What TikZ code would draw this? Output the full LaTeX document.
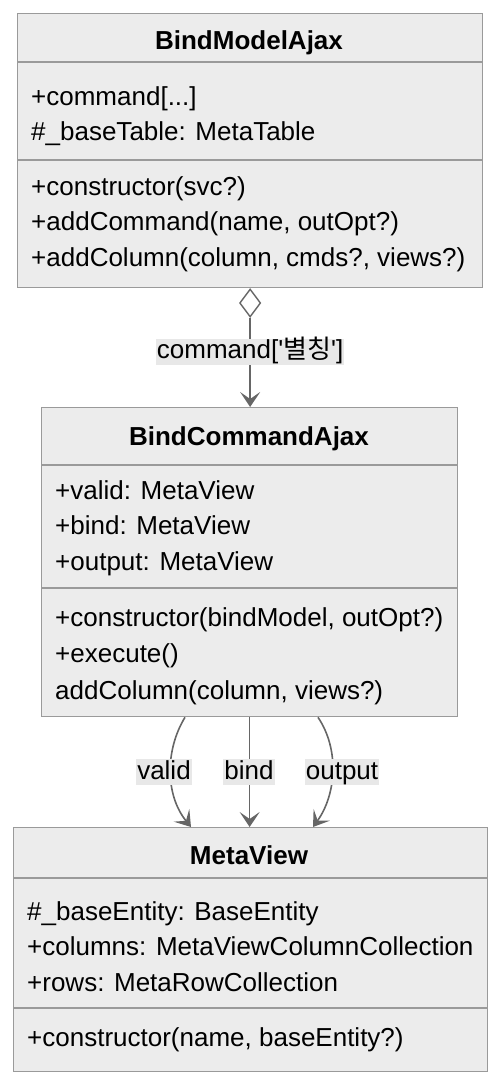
\documentclass[tikz,border=0pt]{standalone}
\usepackage{fontspec}
\setmainfont{Liberation Sans}
\newfontfamily\krfont{Noto Sans CJK KR}
\usetikzlibrary{arrows.meta,shapes.geometric,calc}
\definecolor{boxfill}{HTML}{ECECEC}
\definecolor{boxline}{HTML}{9A9A9A}
\definecolor{edgecol}{HTML}{666666}
\definecolor{lblfill}{HTML}{E8E8E8}
\tikzset{
  classbox/.style={draw=boxline, fill=boxfill, line width=1.3pt, inner sep=0pt, minimum width=#1},
  member/.style={anchor=base west, inner sep=0pt, font=\fontsize{26}{30}\selectfont},
  title/.style={anchor=base, inner sep=0pt, font=\fontsize{26}{30}\selectfont\bfseries},
  divider/.style={draw=boxline, line width=1.3pt},
  edge/.style={draw=edgecol, line width=1.6pt},
  tip/.style={-{Stealth[length=15pt,width=20pt,inset=7pt]}},
  elabel/.style={fill=lblfill, inner xsep=1pt, inner ysep=0pt, text height=20pt, text depth=6pt, font=\fontsize{26}{30}\selectfont, text=black},
}
\begin{document}
\begin{tikzpicture}[x=1pt,y=-1pt]
\useasboundingbox (0,0) rectangle (500,1084);
% Box 1
\node[classbox=465pt, minimum height=274pt, anchor=north west] (bma) at (17,13) {};
\draw[divider] (17,62) -- (482,62);
\draw[divider] (17,160) -- (482,160);
\node[title] (bmaT) at (249,49) {BindModelAjax};
\node[member] (bma1) at (31,105) {+command[...]};
\node[member] (bma2) at (31,140) {\#\_baseTable: MetaTable};
\node[member] (bma3) at (31,195) {+constructor(svc?)};
\node[member] (bma4) at (31,230) {+addCommand(name, outOpt?)};
\node[member] (bma5) at (31,266) {+addColumn(column, cmds?, views?)};
% Box 2
\node[classbox=416pt, minimum height=309pt, anchor=north west] (bca) at (41,407) {};
\draw[divider] (41,465) -- (457,465);
\draw[divider] (41,588) -- (457,588);
\node[title] (bcaT) at (249,445) {BindCommandAjax};
\node[member] (bca1) at (55,499) {+valid: MetaView};
\node[member] (bca2) at (55,534) {+bind: MetaView};
\node[member] (bca3) at (55,570) {+output: MetaView};
\node[member] (bca4) at (55,626) {+constructor(bindModel, outOpt?)};
\node[member] (bca5) at (55,662) {+execute()};
\node[member] (bca6) at (55,699) {addColumn(column, views?)};
% Box 3
\node[classbox=474pt, minimum height=244pt, anchor=north west] (mv) at (13,827) {};
\draw[divider] (13,878) -- (487,878);
\draw[divider] (13,1008) -- (487,1008);
\node[title] (mvT) at (249,864) {MetaView};
\node[member] (mv1) at (27,920) {\#\_baseEntity: BaseEntity};
\node[member] (mv2) at (27,955) {+columns: MetaViewColumnCollection};
\node[member] (mv3) at (27,991) {+rows: MetaRowCollection};
\node[member] (mv4) at (27,1046) {+constructor(name, baseEntity?)};
% Aggregation edge
\node[diamond, draw=edgecol, fill=white, line width=1.4pt, minimum width=21pt, minimum height=28pt, inner sep=0pt, anchor=north] (dia) at (bma.south) {};
\draw[edge, tip] (dia.south) -- (dia.south |- bca.north)
  node[elabel, pos=0.38] (lcmd) {command[\textquotesingle{\krfont 별칭}\textquotesingle]};
% bottom edges
\coordinate (vS) at ($(bca.south west)+(144,0)$);
\coordinate (vE) at ($(mv.north west)+(178,0)$);
\coordinate (oS) at ($(bca.south west)+(277,0)$);
\coordinate (oE) at ($(mv.north west)+(300,0)$);
\draw[edge, tip] (vS) .. controls (165,750) and (165,795) .. (vE);
\draw[edge, tip] (bca.south) -- (bca.south |- mv.north);
\draw[edge, tip] (oS) .. controls (340,750) and (336,795) .. (oE);
\node[elabel] (lvalid) at (164,772) {valid};
\node[elabel] (lbind) at (249,772) {bind};
\node[elabel] (lout) at (342,772) {output};
\end{tikzpicture}
\end{document}
